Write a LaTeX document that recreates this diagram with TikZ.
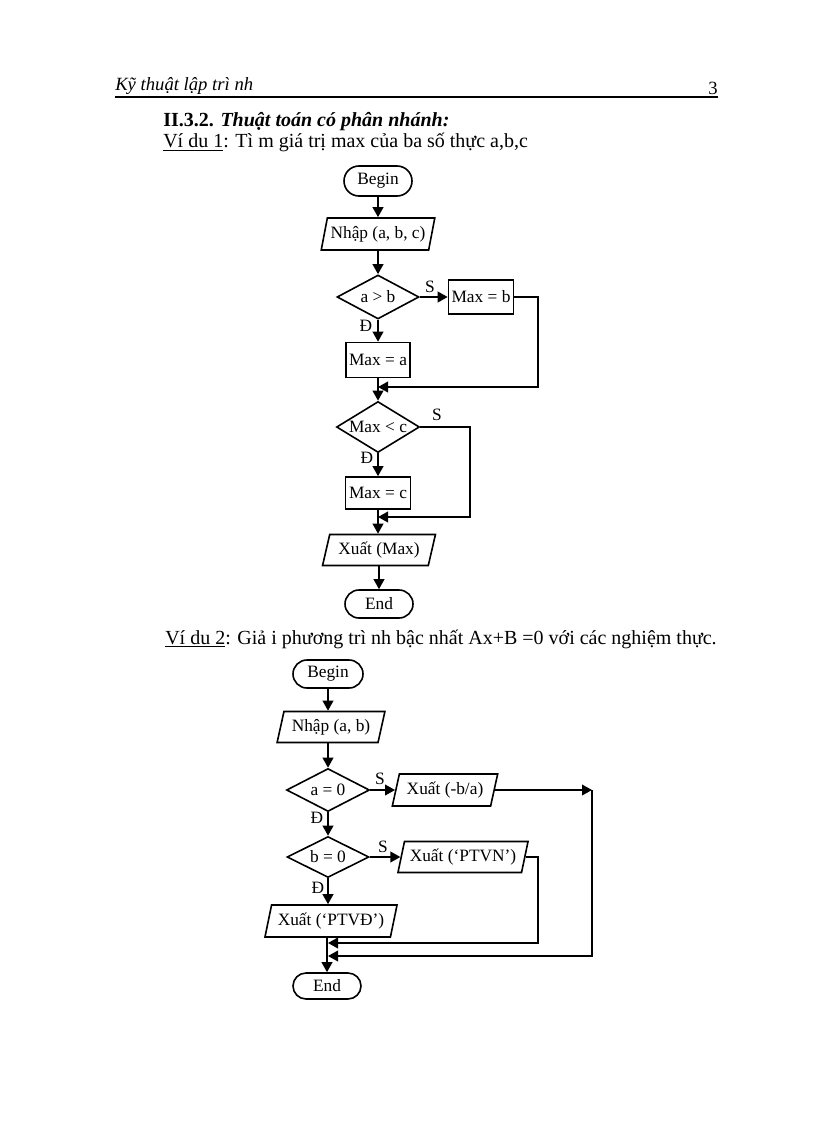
\documentclass[tikz,border=0pt]{standalone}
\usepackage{fontspec}
\setmainfont{Liberation Serif}
\usetikzlibrary{shapes.geometric,shapes.misc,arrows.meta}
\begin{document}
\begin{tikzpicture}[x=0.75pt,y=-0.75pt,
  base/.style={draw, line width=1.2pt, inner sep=0pt, font=\fontsize{13}{15}\selectfont},
  term/.style={base, rounded rectangle},
  proc/.style={base, rectangle},
  dec/.style={base, diamond, aspect=1.7},
  io/.style={base, trapezium, trapezium left angle=70, trapezium right angle=110, trapezium stretches=true},
  lbl/.style={font=\fontsize{13}{15}\selectfont, inner sep=0pt},
  txt/.style={inner sep=0pt, anchor=base west, font=\fontsize{15}{18}\selectfont},
  arr/.style={line width=1.3pt, -{Triangle[length=7.5pt,width=8pt]}},
  ln/.style={line width=1.3pt}]
\useasboundingbox (0,0) rectangle (816,1123);

% header
\node[txt, font=\fontsize{14}{16}\selectfont\itshape] (hdr) at (115,91) {Kỹ thuật lập trì nh};
\node[inner sep=0pt, anchor=base east, font=\fontsize{14}{16}\selectfont] (pg) at (718,95) {3};
\draw[line width=0.8pt] (115,97) -- (718,97);

\node[txt] (ttl) at (163,127) {\textbf{II.3.2. \textit{Thuật toán có phân nhánh:}}};
\node[txt] (ex1) at (163,148) {\underline{Ví du 1}: Tì m giá trị max của ba số thực a,b,c};

% flowchart 1
\node[term, minimum width=51pt, minimum height=22.5pt] (b1) at (378,181) {Begin};
\node[io, minimum width=85.5pt, minimum height=24pt] (in1) at (378,234) {Nhập (a, b, c)};
\node[dec, minimum width=61.5pt, minimum height=33pt] (d1) at (378,297) {a > b};
\node[proc, minimum width=48.75pt, minimum height=25.5pt] (mb) at (481,297) {Max = b};
\node[proc, minimum width=48pt, minimum height=26.25pt] (ma) at (378,360) {Max = a};
\node[dec, minimum width=62.25pt, minimum height=38.25pt] (d2) at (378,427) {Max < c};
\node[proc, minimum width=48.75pt, minimum height=24pt] (mc) at (378,493) {Max = c};
\node[io, minimum width=84.75pt, minimum height=23.25pt] (out1) at (379,550) {Xuất (Max)};
\node[term, minimum width=51pt, minimum height=21pt] (e1) at (379,604) {End};

\node[lbl] (s1) at (430,287) {S};
\node[lbl] (dd1) at (366,326) {Đ};
\node[lbl] (s2) at (437,415) {S};
\node[lbl] (dd2) at (367,458) {Đ};

\coordinate (j1) at (378,387);
\coordinate (r1) at (538,387);
\coordinate (j2) at (378,517);
\coordinate (r2) at (470,517);

\draw[arr] (b1) -- (b1 |- in1.north);
\draw[arr] (in1.south -| d1.north) -- (d1.north);
\draw[arr] (d1) -- (mb);
\draw[arr] (d1) -- (ma);
\draw[arr] (mb.east) -| (r1) -- (j1);
\draw[arr] (ma) -- (d2);
\draw[arr] (d2) -- (mc);
\draw[arr] (d2.east) -| (r2) -- (j2);
\draw[arr] (mc.south) -- (mc.south |- out1.north);
\draw[arr] (out1.south -| e1.north) -- (e1.north);

\node[txt] (ex2) at (165,644) {\underline{Ví du 2}: Giả i phương trì nh bậc nhất Ax+B =0 với các nghiệm thực.};

% flowchart 2
\node[term, minimum width=52.5pt, minimum height=21pt] (b2) at (328,674) {Begin};
\node[io, minimum width=81pt, minimum height=23.25pt] (in2) at (331,727) {Nhập (a, b)};
\node[dec, minimum width=62.25pt, minimum height=32.25pt] (d3) at (328,790) {a = 0};
\node[io, minimum width=79.5pt, minimum height=24pt] (o1) at (445,790) {Xuất (-b/a)};
\node[dec, minimum width=61.5pt, minimum height=30.75pt] (d4) at (328,857) {b = 0};
\node[io, minimum width=98.25pt, minimum height=23.25pt] (o2) at (463,857) {Xuất (‘PTVN’)};
\node[io, minimum width=99.75pt, minimum height=24pt] (o3) at (331,921) {Xuất (‘PTVĐ’)};
\node[term, minimum width=51pt, minimum height=19.5pt] (e2) at (327,986) {End};

\node[lbl] (s3) at (380,779) {S};
\node[lbl] (dd3) at (317,818) {Đ};
\node[lbl] (s4) at (383,847) {S};
\node[lbl] (dd4) at (318,888) {Đ};

\coordinate (cr1) at (592,790);
\coordinate (j4) at (328,956);
\coordinate (r3) at (538,943);
\coordinate (j3) at (328,943);

\draw[arr] (b2) -- (b2 |- in2.north);
\draw[arr] (in2.south -| d3.north) -- (d3.north);
\draw[arr] (d3) -- (o1);
\draw[arr] (o1.east) -- (cr1);
\draw[arr] (cr1) |- (j4);
\draw[arr] (d3) -- (d4);
\draw[arr] (d4) -- (o2);
\draw[arr] (o2.east) -| (r3) -- (j3);
\draw[arr] (d4.south) -- (d4.south |- o3.north);
\draw[arr] (o3.south -| e2.north) -- (e2.north);
\end{tikzpicture}
\end{document}
